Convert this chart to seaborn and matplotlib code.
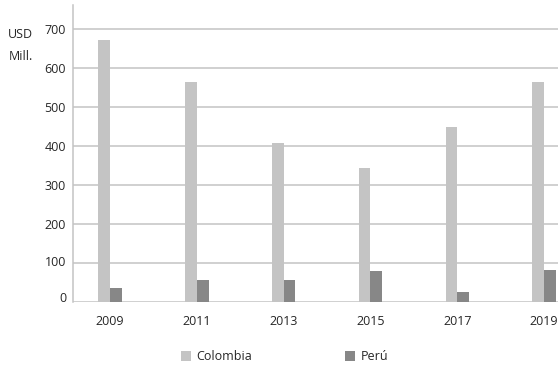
import matplotlib
matplotlib.use("Agg")
import matplotlib.pyplot as plt
import matplotlib.transforms as mtransforms
from matplotlib.patches import Patch
import pandas as pd
import seaborn as sns

# Data (USD millions)
years = ["2009", "2011", "2013", "2015", "2017", "2019"]
colombia = [674, 564, 408, 343, 448, 566]
peru = [36, 56, 56, 78, 25, 81]
series_names = ["Colombia", "Perú"]
y_ticks = [0, 100, 200, 300, 400, 500, 600, 700]

colors = {"Colombia": "#c4c4c4", "Perú": "#878787"}
text_color = "#262626"
grid_color = "#c3c3c3"

df = pd.DataFrame({
    "year": years * 2,
    "value": colombia + peru,
    "country": [series_names[0]] * len(years) + [series_names[1]] * len(years),
})

sns.set_theme(style="white")
plt.rcParams["font.family"] = ["Open Sans", "DejaVu Sans"]

W, H = 558, 366
fig = plt.figure(figsize=(W / 100, H / 100), dpi=100)
ax = fig.add_axes([73 / W, 1 - 301.5 / H, (558 - 73) / W, (301.5 - 5) / H])

sns.barplot(data=df, x="year", y="value", hue="country", order=years,
            hue_order=series_names, palette=colors, width=0.27,
            saturation=1, linewidth=0, legend=False, ax=ax, zorder=3)

ax.set_xlim(-0.426, 5.16)
ax.set_ylim(0, 763)
ax.set_yticks(y_ticks)
ax.set_yticklabels([str(v) for v in y_ticks])
ax.set_xlabel("")
ax.set_ylabel("")

ax.grid(axis="y", color=grid_color, linewidth=1.1, zorder=0)
ax.grid(axis="x", visible=False)
for side in ["top", "right", "bottom"]:
    ax.spines[side].set_visible(False)
ax.spines["left"].set_color(grid_color)
ax.spines["left"].set_linewidth(1.1)

ax.tick_params(axis="x", length=0, pad=10, labelsize=9, labelcolor=text_color)
ax.tick_params(axis="y", length=0, pad=5, labelsize=9, labelcolor=text_color)

# the two lowest value labels sit a little above their gridlines
for lbl, dy in zip(ax.get_yticklabels()[:2], [4, 2]):
    lbl.set_transform(lbl.get_transform() +
                      mtransforms.ScaledTranslation(0, dy / 100, fig.dpi_scale_trans))

# unit label
fig.text(20.5 / W, 1 - 34.5 / H, "USD", ha="center", va="center",
         fontsize=9, color=text_color)
fig.text(21 / W, 1 - 57 / H, "Mill.", ha="center", va="center",
         fontsize=9, color=text_color)

handles = [Patch(facecolor=colors[n], edgecolor="none", label=n) for n in series_names]
fig.legend(handles=handles, loc="center left", bbox_to_anchor=(181 / W, 1 - 357 / H),
           ncol=2, frameon=False, fontsize=9, handlelength=0.8, handleheight=0.8,
           handletextpad=0.45, columnspacing=7.4, borderpad=0, borderaxespad=0,
           labelcolor=text_color)

fig.savefig("out.png", dpi=100)
